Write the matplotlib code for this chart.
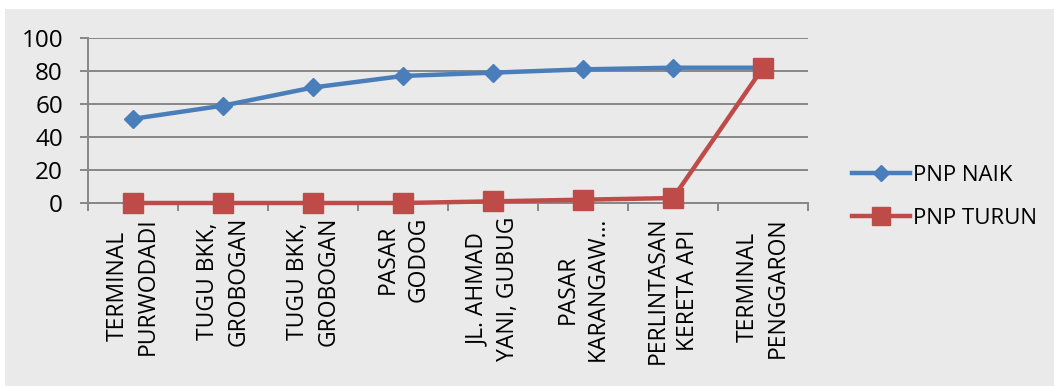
import matplotlib
matplotlib.use("Agg")
import matplotlib.pyplot as plt
from matplotlib.patches import Rectangle

# Stops along the route
categories = [
    "TERMINAL\nPURWODADI",
    "TUGU BKK,\nGROBOGAN",
    "TUGU BKK,\nGROBOGAN",
    "PASAR\nGODOG",
    "JL. AHMAD\nYANI, GUBUG",
    "PASAR\nKARANGAW\u2026",
    "PERLINTASAN\nKERETA API",
    "TERMINAL\nPENGGARON",
]
pnp_naik = [51, 59, 70, 77, 79, 81, 82, 82]
pnp_turun = [0, 0, 0, 0, 1, 2, 3, 82]
y_ticks = [0, 20, 40, 60, 80, 100]

BLUE = "#4A7EBB"
RED = "#BE4B48"
GRID = "#878787"
BG = "#EAEAEA"

plt.rcParams["font.family"] = ["Open Sans", "DejaVu Sans"]

fig = plt.figure(figsize=(10.54, 3.86), dpi=100)
fig.patch.set_facecolor("white")
# chart area background
fig.patches.append(Rectangle((5 / 1054, 0), 1, 1 - 9 / 386, transform=fig.transFigure,
                             facecolor=BG, edgecolor="none", zorder=-10))

ax = fig.add_axes([88 / 1054, 183 / 386, 720 / 1054, 165 / 386])
ax.set_facecolor(BG)
x = list(range(len(categories)))

ax.plot(x, pnp_naik, color=BLUE, lw=3.2, marker="D", ms=9.5,
        label="PNP NAIK", clip_on=False, zorder=3)
ax.plot(x, pnp_turun, color=RED, lw=3.2, marker="s", ms=14,
        label="PNP TURUN", clip_on=False, zorder=4)

ax.set_xlim(-0.5, len(categories) - 0.5)
ax.set_ylim(0, 100)
ax.set_yticks(y_ticks)
ax.yaxis.grid(True, color=GRID, lw=1.4)
ax.set_axisbelow(True)

ax.set_xticks(x)
ax.set_xticklabels(categories, rotation=90, va="top", ha="center",
                   multialignment="center", fontsize=16.5, linespacing=1.35)
ax.set_xticks([i - 0.5 for i in range(len(categories) + 1)], minor=True)
ax.tick_params(axis="x", which="major", length=0, pad=10)
ax.tick_params(axis="x", which="minor", length=6, width=1.4, color=GRID, direction="out")
ax.tick_params(axis="y", length=6, width=1.4, color=GRID, labelsize=17.5, pad=12)

for s in ("top", "right"):
    ax.spines[s].set_visible(False)
for s in ("left", "bottom"):
    ax.spines[s].set_color(GRID)
    ax.spines[s].set_linewidth(1.4)

leg = fig.legend(loc="center left", bbox_to_anchor=(832 / 1054, 1 - 197 / 386),
                 frameon=False, fontsize=16, handlelength=2.6, handletextpad=0.15,
                 labelspacing=1.0, markerscale=0.9)

fig.savefig("out.png", dpi=100, facecolor="white")
